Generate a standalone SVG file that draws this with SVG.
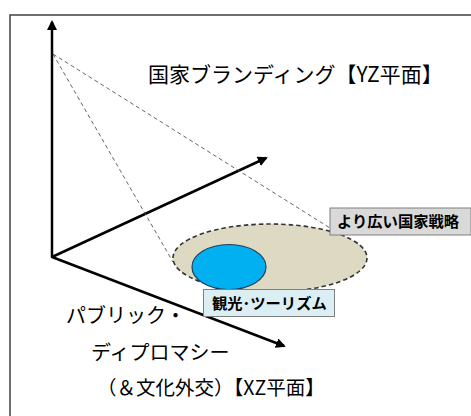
<svg xmlns="http://www.w3.org/2000/svg" width="471" height="416" viewBox="0 0 471 416">
<style>
.ax{stroke:#000;stroke-width:2.5;fill:none;marker-end:url(#ah)}
.dl{stroke:#555;stroke-width:0.9;stroke-dasharray:4 3;fill:none}
.big{font-family:"Noto Sans CJK JP","Noto Sans",sans-serif;fill:#000}
.lbl{font-family:"Noto Sans CJK JP","Noto Sans",sans-serif;font-weight:bold;font-size:15.3px;fill:#000}
</style>
<defs>
<marker id="ah" viewBox="0 0 10 10" refX="8" refY="5" markerWidth="4" markerHeight="4" orient="auto" markerUnits="strokeWidth">
<path d="M0,0 L10,5 L0,10 Z" fill="#000"/>
</marker>
</defs>
<rect x="0" y="0" width="471" height="416" fill="#fff"/>
<rect x="10" y="15" width="470" height="420" fill="#fff" stroke="#404040" stroke-width="1.5"/>
<g id="connectors">
<line class="ax" x1="52" y1="258" x2="52" y2="22"/>
<line class="ax" x1="52" y1="257" x2="266" y2="158"/>
<line class="ax" x1="52" y1="257" x2="284" y2="346"/>
<line class="dl" x1="53" y1="54" x2="173" y2="262"/>
<line class="dl" x1="53" y1="54" x2="330" y2="228"/>
</g>
<g id="title">
<text class="big" x="148" y="82" font-size="21">国家ブランディング【YZ平面】</text>
</g>
<g id="strategy">
<ellipse cx="270" cy="258" rx="97" ry="34" fill="#ddd9c3" stroke="#333" stroke-width="1.6" stroke-dasharray="4.5 3"/>
</g>
<g id="tourism">
<ellipse cx="229" cy="267" rx="37" ry="22.5" fill="#00b0f0" stroke="#1f3f5f" stroke-width="1.2"/>
</g>
<g id="strategy-label">
<rect x="330" y="208" width="141" height="27" fill="#d9d9d9" stroke="#7f7f7f" stroke-width="1"/>
<text class="lbl" x="337" y="227">より広い国家戦略</text>
</g>
<g id="tourism-label">
<rect x="203.5" y="289.5" width="131" height="27" fill="#dbeef4" stroke="#7f7f7f" stroke-width="1"/>
<text class="lbl" x="212" y="309">観光･ツーリズム</text>
</g>
<g id="xz-label">
<text class="big" x="66" y="323" font-size="20">パブリック・</text>
<text class="big" x="91" y="360" font-size="20">ディプロマシー</text>
<text class="big" x="97" y="395" font-size="19.5">（＆文化外交）【XZ平面】</text>
</g>
</svg>
